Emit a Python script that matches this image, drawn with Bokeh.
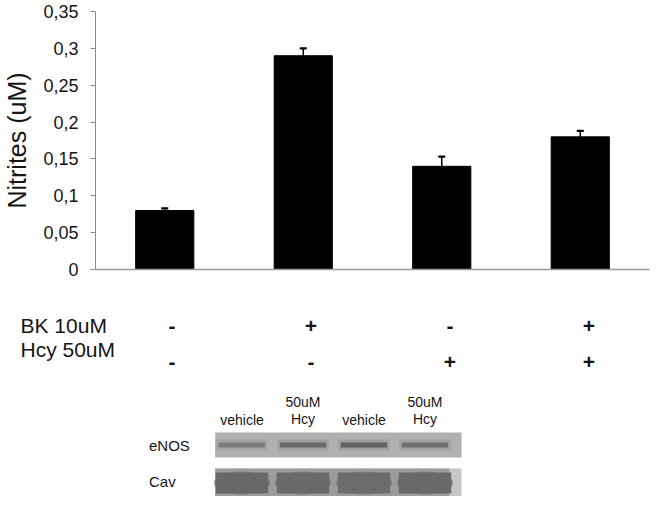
from bokeh.plotting import figure
from bokeh.layouts import column
from bokeh.models import Range1d, FixedTicker
from bokeh.core.properties import value
from bokeh.embed import file_html
from bokeh.resources import INLINE

# ---------------- data ----------------
categories = ["Control", "BK", "Hcy", "BK+Hcy"]
nitrites = [0.08, 0.29, 0.14, 0.18]
nitrites_err = [0.003, 0.010, 0.013, 0.008]
y_ticks = [0, 0.05, 0.1, 0.15, 0.2, 0.25, 0.3, 0.35]
y_tick_labels = ["0", "0,05", "0,1", "0,15", "0,2", "0,25", "0,3", "0,35"]
treat_rows = ["BK  10uM", "Hcy 50uM"]
bk_marks = ["-", "+", "-", "+"]
hcy_marks = ["-", "-", "+", "+"]
lane_labels = ["vehicle", "50uM\nHcy", "vehicle", "50uM\nHcy"]
blot_rows = ["eNOS", "Cav"]
enos_density = [0.45, 0.60, 0.66, 0.55]
cav_density = [0.62, 0.58, 0.56, 0.60]

# ---------------- layout / style ----------------
FONT = "Liberation Sans"
TXT = "#151515"
W = 651
H1, H2, H3 = 285, 88, 123
LEFT, RIGHT, TOP, BOTTOM = 93, 2, 11, 16
n = len(categories)
frame_w = W - LEFT - RIGHT
unit = frame_w / n
xs = [i + 0.5 for i in range(n)]
tops = [v + e for v, e in zip(nitrites, nitrites_err)]

def clean(p):
    p.xgrid.grid_line_color = None
    p.ygrid.grid_line_color = None
    p.outline_line_color = None
    p.background_fill_color = "white"
    p.border_fill_color = "white"
    p.frame_align = False

# ---------------- figure 1: bars ----------------
p1 = figure(width=W, height=H1, x_range=Range1d(0, n), y_range=Range1d(0, 0.35),
            output_backend="svg", toolbar_location=None,
            min_border_left=LEFT, min_border_right=RIGHT,
            min_border_top=TOP, min_border_bottom=BOTTOM)
clean(p1)
p1.vbar(x=xs, top=nitrites, width=0.42, fill_color="black", line_color="black")
p1.segment(x0=xs, y0=nitrites, x1=xs, y1=tops, line_color="black", line_width=1.5)
p1.scatter(x=xs, y=tops, marker="dash", size=7, line_width=2.2, line_color="black")

ya = p1.yaxis[0]
ya.ticker = FixedTicker(ticks=y_ticks)
ya.major_label_overrides = {t: l for t, l in zip(y_ticks, y_tick_labels)}
ya.minor_tick_line_color = None
ya.major_tick_in = 0
ya.major_tick_out = 5
ya.major_tick_line_color = "#8a8a8a"
ya.axis_line_color = "#8a8a8a"
ya.major_label_standoff = 12
ya.major_label_text_font = FONT
ya.major_label_text_font_size = "18px"
ya.major_label_text_color = TXT
ya.axis_label = "Nitrites (uM)"
ya.axis_label_text_font = FONT
ya.axis_label_text_font_size = "25px"
ya.axis_label_text_font_style = "normal"
ya.axis_label_text_color = TXT
ya.axis_label_standoff = 9

xa = p1.xaxis[0]
xa.ticker = FixedTicker(ticks=[])
xa.major_tick_line_color = None
xa.minor_tick_line_color = None
xa.axis_line_color = "#9a9a9a"
xa.axis_line_width = 1.5

# ---------------- figure 2: treatment table ----------------
x_start = -LEFT / unit
x_end = x_start + W / unit
p2 = figure(width=W, height=H2, x_range=Range1d(x_start, x_end), y_range=Range1d(H2, 0),
            output_backend="svg", toolbar_location=None, min_border=0)
clean(p2)
p2.axis.visible = False
label_x = (20 - LEFT) / unit
label_rows_y = [40 + 24 * i for i in range(len(treat_rows))]
mark_rows_y = [40 + 36.5 * i for i in range(len(treat_rows))]
p2.text(x=[label_x] * len(treat_rows), y=label_rows_y, text=treat_rows,
        text_font=value(FONT), text_font_size="21px", text_color=TXT,
        text_align="left", text_baseline="middle")
for row_y, marks in zip(mark_rows_y, [bk_marks, hcy_marks]):
    p2.text(x=xs, y=[row_y] * n, text=marks, x_offset=9,
            text_font=value(FONT), text_font_size="21px", text_font_style="bold",
            text_color=TXT, text_align="center", text_baseline="middle")

# ---------------- figure 3: western blot ----------------
LANE_PX = 61.0
LANE1_PX = 241.5
lx_start = 1 - LANE1_PX / LANE_PX
lx_end = lx_start + W / LANE_PX
p3 = figure(width=W, height=H3, x_range=Range1d(lx_start, lx_end), y_range=Range1d(H3, 0),
            output_backend="svg", toolbar_location=None, min_border=0)
clean(p3)
p3.axis.visible = False
nl = len(lane_labels)
lane_x = [i + 1 for i in range(nl)]
box_l, box_r = 1 - 0.44, nl + 0.6

def grey(level):
    v = max(0, min(255, int(round(level))))
    return "#%02x%02x%02x" % (v, v, v)

p3.text(x=lane_x, y=[54] * nl, text=lane_labels, text_font=value(FONT),
        text_font_size="14px", text_color=TXT, text_align="center",
        text_baseline="bottom", text_line_height=1.1)

row_y = [71.5, 109]
row_h = [25, 28]
p3.text(x=[(148.5 - LANE1_PX) / LANE_PX + 1] * 2, y=[72, 108], text=blot_rows,
        text_font=value(FONT), text_font_size="15px", text_color=TXT,
        text_align="left", text_baseline="middle")

# eNOS strip
p3.rect(x=[(box_l + box_r) / 2], y=[row_y[0]], width=[box_r - box_l], height=[row_h[0]],
        fill_color="#b0b0b0", line_color=None)
p3.rect(x=lane_x, y=[row_y[0]] * nl, width=0.84, height=11,
        fill_color=[grey(172 - 80 * d) for d in enos_density], fill_alpha=0.3, line_color=None)
p3.rect(x=lane_x, y=[row_y[0]] * nl, width=0.76, height=5,
        fill_color=[grey(172 - 110 * d) for d in enos_density], line_color=None)

# Cav strip
p3.rect(x=[(box_l + box_r) / 2], y=[row_y[1]], width=[box_r - box_l], height=[row_h[1]],
        fill_color="#c6c6c6", line_color=None)
cav_r = nl + 0.4
p3.rect(x=[(box_l + cav_r) / 2], y=[row_y[1]], width=[cav_r - box_l], height=[row_h[1]],
        fill_color="#9c9c9c", line_color=None)
p3.ellipse(x=lane_x, y=[row_y[1] + 0.5] * nl, width=0.92, height=23,
           fill_color=[grey(150 - 60 * d) for d in cav_density], fill_alpha=0.7, line_color=None)
p3.rect(x=lane_x, y=[row_y[1] + 0.5] * nl, width=0.86, height=21,
        fill_color=[grey(150 - 75 * d) for d in cav_density], line_color=None)

layout = column(p1, p2, p3, spacing=0)
open("out.html", "w").write(file_html(layout, INLINE))
